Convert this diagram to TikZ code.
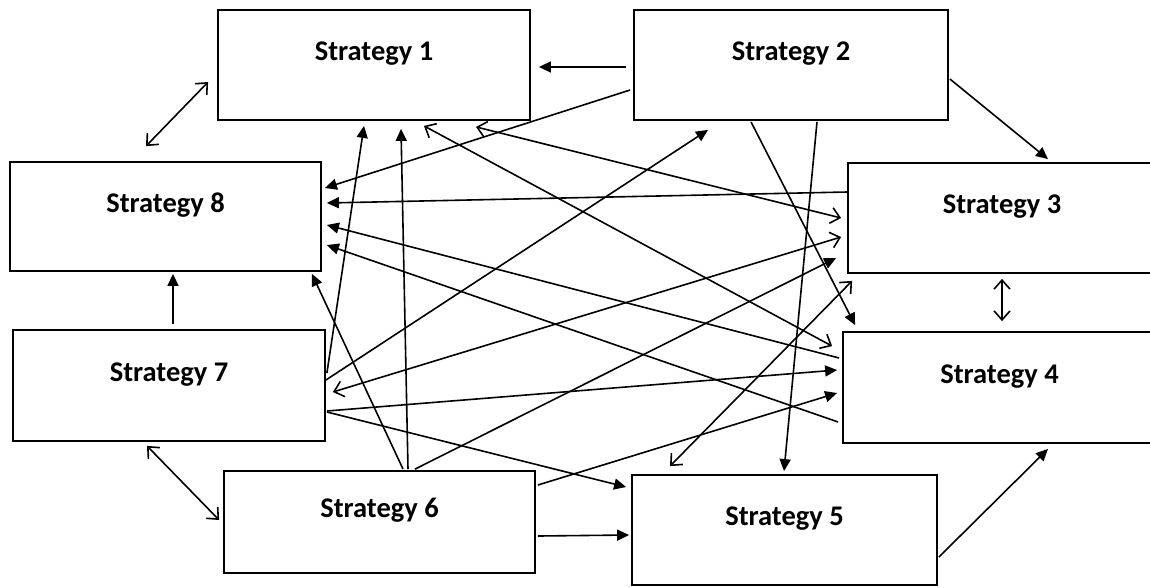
\documentclass[tikz,border=0pt]{standalone}
\usepackage{fontspec}
\setmainfont{Carlito}
\usetikzlibrary{arrows.meta,calc}
\newcommand{\labelfont}{\fontsize{28.5}{31}\selectfont\bfseries}
\tikzset{
  box/.style={draw, line width=1.8pt, rectangle, inner sep=0pt,
    text height=20pt, text depth=29pt, font=\labelfont},
  conn/.style={line width=1.6pt},
  fa/.style={conn, -{Triangle[length=12pt,width=11pt]}},
  oa/.style={conn, {Straight Barb[length=9pt,width=16pt]}-{Straight Barb[length=9pt,width=16pt]}}
}
\begin{document}
\begin{tikzpicture}[x=1pt,y=-1pt]
\useasboundingbox (0,0) rectangle (1150,587);
\node[box, minimum width=312pt, minimum height=110pt] (s1) at (374,65) {Strategy 1};
\node[box, minimum width=314pt, minimum height=110pt] (s2) at (791,65) {Strategy 2};
\node[box, minimum width=308pt, minimum height=110pt] (s3) at (1002,218) {Strategy 3};
\node[box, minimum width=313pt, minimum height=111pt] (s4) at (999.5,387.5) {Strategy 4};
\node[box, minimum width=305pt, minimum height=110pt] (s5) at (784.5,530) {Strategy 5};
\node[box, minimum width=311pt, minimum height=102pt] (s6) at (379.5,522) {Strategy 6};
\node[box, minimum width=312pt, minimum height=111pt] (s7) at (169,385.5) {Strategy 7};
\node[box, minimum width=311pt, minimum height=109pt] (s8) at (165.5,216.5) {Strategy 8};

% 1 S2 -> S1
\draw[fa] ($(s2.west)+(-7,2)$) -- ($(s1.east)+(8,2)$);
% 2 S1 <-> S8
\draw[oa] ($(s1.west)+(-9,17)$) -- ($(s8.north)+(-19.5,-15)$);
% 3 S2 -> S3
\draw[fa] ($(s2.east)+(1,14)$) -- ($(s3.north)+(46,-3)$);
% 4 S2 -> S8
\draw[fa] ($(s2.west)+(-3,25)$) -- ($(s8.east)+(3,-28.5)$);
% 5 S3 -> S8
\draw[fa] ($(s3.west)+(0,-26)$) -- ($(s8.east)+(5,-13.5)$);
% 6 S4 -> S8 upper
\draw[fa] ($(s4.west)+(-3,-29.5)$) -- ($(s8.east)+(5,8.5)$);
% 7 S4 -> S8 lower
\draw[fa] ($(s4.west)+(-4,34.5)$) -- ($(s8.east)+(5,28.5)$);
% 8 S7 -> S8
\draw[fa] ($(s7.north)+(4,-5)$) -- ($(s8.south)+(7.5,2)$);
% 9 S6 -> S8
\draw[fa] ($(s6.north)+(23.5,-1)$) -- ($(s8.south east)+(-10,2)$);
% 10 S6 -> S1
\draw[fa] ($(s6.north)+(28.5,-1)$) -- ($(s1.south)+(27,8)$);
% 11 S7 -> S1
\draw[fa] ($(s7.east)+(1,-12.5)$) -- ($(s1.south)+(-10,5)$);
% 12 S1 <-> S4
\draw[oa] ($(s1.south)+(50,5)$) -- ($(s4.north west)+(-10,15)$);
% 13 S1 <-> S3
\draw[oa] ($(s1.south)+(102,6)$) -- ($(s3.west)+(-6,0)$);
% 14 S7 <-> S3
\draw[oa] ($(s7.east)+(7,6.5)$) -- ($(s3.west)+(-6,19)$);
% 15 S6 -> S3
\draw[fa] ($(s6.north)+(35.5,-1)$) -- ($(s3.west)+(-11,40)$);
% 16 S7 -> S2
\draw[fa] ($(s7.east)+(0,-5.5)$) -- ($(s2.south)+(-83,9)$);
% 17 S3 <-> S5
\draw[oa] ($(s3.south west)+(5,7)$) -- ($(s5.north)+(-114.5,-8)$);
% 18 S3 <-> S4
\draw[oa] ($(s3.south)+(0,5)$) -- ($(s4.north)+(2.5,-10)$);
% 19 S2 -> S4
\draw[fa] ($(s2.south)+(-40,1)$) -- ($(s4.north west)+(13,-6)$);
% 20 S2 -> S5
\draw[fa] ($(s2.south)+(26,1)$) -- ($(s5.north)+(-0.5,-3)$);
% 21 S7 -> S4
\draw[fa] ($(s7.east)+(1,25.5)$) -- ($(s4.west)+(-5,-17.5)$);
% 22 S7 -> S5
\draw[fa] ($(s7.east)+(1,26.5)$) -- ($(s5.west)+(-5,-43)$);
% 23 S6 -> S4
\draw[fa] ($(s6.east)+(2,-37)$) -- ($(s4.west)+(-5,5.5)$);
% 24 S6 -> S5
\draw[fa] ($(s6.east)+(2,14)$) -- ($(s5.west)+(-2,5)$);
% 25 S5 -> S4
\draw[fa] ($(s5.east)+(1,27)$) -- ($(s4.south)+(48.5,5)$);
% 26 S7 <-> S6
\draw[oa] ($(s7.south)+(-22,4)$) -- ($(s6.west)+(-4,-2)$);
\end{tikzpicture}
\end{document}
